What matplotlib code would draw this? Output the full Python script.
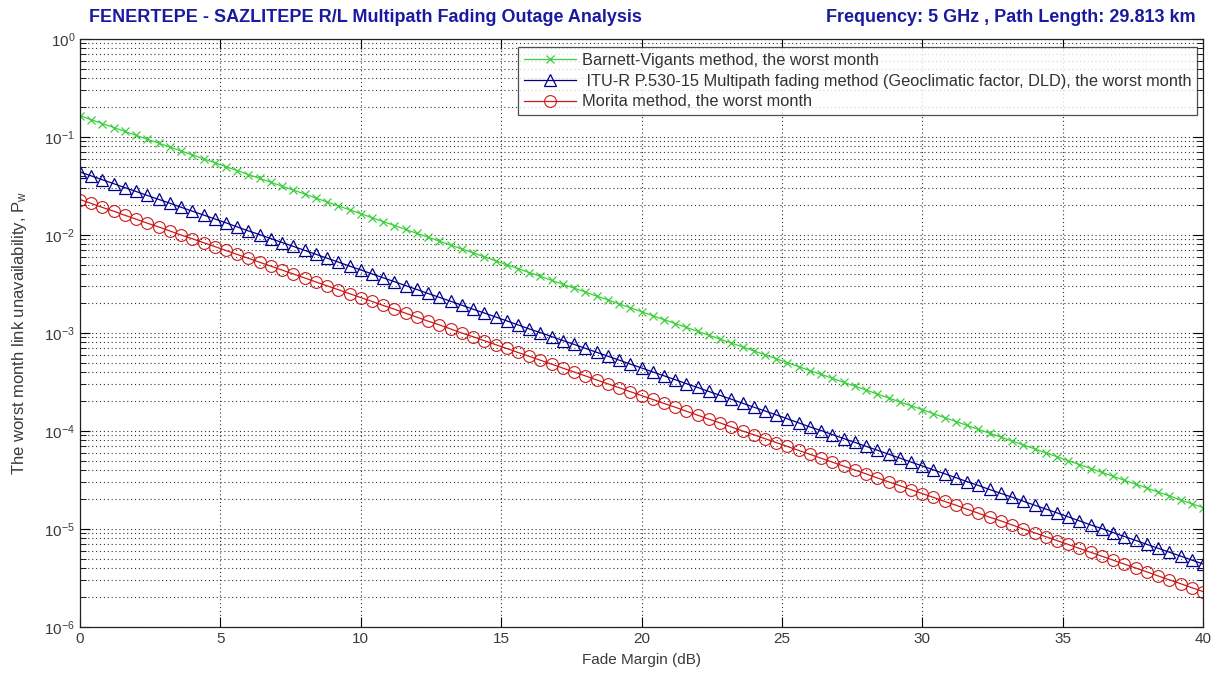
import numpy as np
import matplotlib
matplotlib.use("Agg")
import matplotlib.pyplot as plt
from matplotlib.ticker import LogLocator, NullFormatter, MultipleLocator

plt.rcParams['font.family'] = ['Liberation Sans', 'DejaVu Sans']
plt.rcParams['mathtext.default'] = 'regular'
plt.rcParams['axes.unicode_minus'] = False

# fade margin, 0 to 40 dB in 0.4 dB steps (101 samples, as in the source plot)
fade_margin = np.linspace(0, 40, 101)

# worst month outage probability
barnett_vigants = [
    1.65e-1, 1.50e-1, 1.37e-1, 1.25e-1, 1.14e-1, 1.04e-1, 9.49e-2, 8.66e-2, 7.90e-2, 7.20e-2,
    6.57e-2, 5.99e-2, 5.46e-2, 4.98e-2, 4.54e-2, 4.14e-2, 3.78e-2, 3.45e-2, 3.14e-2, 2.87e-2,
    2.62e-2, 2.38e-2, 2.18e-2, 1.98e-2, 1.81e-2,
    1.65e-2, 1.50e-2, 1.37e-2, 1.25e-2, 1.14e-2, 1.04e-2, 9.49e-3, 8.66e-3, 7.90e-3, 7.20e-3,
    6.57e-3, 5.99e-3, 5.46e-3, 4.98e-3, 4.54e-3, 4.14e-3, 3.78e-3, 3.45e-3, 3.14e-3, 2.87e-3,
    2.62e-3, 2.38e-3, 2.18e-3, 1.98e-3, 1.81e-3,
    1.65e-3, 1.50e-3, 1.37e-3, 1.25e-3, 1.14e-3, 1.04e-3, 9.49e-4, 8.66e-4, 7.90e-4, 7.20e-4,
    6.57e-4, 5.99e-4, 5.46e-4, 4.98e-4, 4.54e-4, 4.14e-4, 3.78e-4, 3.45e-4, 3.14e-4, 2.87e-4,
    2.62e-4, 2.38e-4, 2.18e-4, 1.98e-4, 1.81e-4,
    1.65e-4, 1.50e-4, 1.37e-4, 1.25e-4, 1.14e-4, 1.04e-4, 9.49e-5, 8.66e-5, 7.90e-5, 7.20e-5,
    6.57e-5, 5.99e-5, 5.46e-5, 4.98e-5, 4.54e-5, 4.14e-5, 3.78e-5, 3.45e-5, 3.14e-5, 2.87e-5,
    2.62e-5, 2.38e-5, 2.18e-5, 1.98e-5, 1.81e-5,
    1.65e-5,
]
itu_r = [
    4.40e-2, 4.01e-2, 3.66e-2, 3.34e-2, 3.04e-2, 2.78e-2, 2.53e-2, 2.31e-2, 2.11e-2, 1.92e-2,
    1.75e-2, 1.60e-2, 1.46e-2, 1.33e-2, 1.21e-2, 1.10e-2, 1.01e-2, 9.19e-3, 8.38e-3, 7.65e-3,
    6.97e-3, 6.36e-3, 5.80e-3, 5.29e-3, 4.82e-3,
    4.40e-3, 4.01e-3, 3.66e-3, 3.34e-3, 3.04e-3, 2.78e-3, 2.53e-3, 2.31e-3, 2.11e-3, 1.92e-3,
    1.75e-3, 1.60e-3, 1.46e-3, 1.33e-3, 1.21e-3, 1.10e-3, 1.01e-3, 9.19e-4, 8.38e-4, 7.65e-4,
    6.97e-4, 6.36e-4, 5.80e-4, 5.29e-4, 4.82e-4,
    4.40e-4, 4.01e-4, 3.66e-4, 3.34e-4, 3.04e-4, 2.78e-4, 2.53e-4, 2.31e-4, 2.11e-4, 1.92e-4,
    1.75e-4, 1.60e-4, 1.46e-4, 1.33e-4, 1.21e-4, 1.10e-4, 1.01e-4, 9.19e-5, 8.38e-5, 7.65e-5,
    6.97e-5, 6.36e-5, 5.80e-5, 5.29e-5, 4.82e-5,
    4.40e-5, 4.01e-5, 3.66e-5, 3.34e-5, 3.04e-5, 2.78e-5, 2.53e-5, 2.31e-5, 2.11e-5, 1.92e-5,
    1.75e-5, 1.60e-5, 1.46e-5, 1.33e-5, 1.21e-5, 1.10e-5, 1.01e-5, 9.19e-6, 8.38e-6, 7.65e-6,
    6.97e-6, 6.36e-6, 5.80e-6, 5.29e-6, 4.82e-6,
    4.40e-6,
]
morita = [
    2.30e-2, 2.10e-2, 1.91e-2, 1.75e-2, 1.59e-2, 1.45e-2, 1.32e-2, 1.21e-2, 1.10e-2, 1.00e-2,
    9.16e-3, 8.35e-3, 7.62e-3, 6.95e-3, 6.33e-3, 5.78e-3, 5.27e-3, 4.81e-3, 4.38e-3, 4.00e-3,
    3.65e-3, 3.32e-3, 3.03e-3, 2.77e-3, 2.52e-3,
    2.30e-3, 2.10e-3, 1.91e-3, 1.75e-3, 1.59e-3, 1.45e-3, 1.32e-3, 1.21e-3, 1.10e-3, 1.00e-3,
    9.16e-4, 8.35e-4, 7.62e-4, 6.95e-4, 6.33e-4, 5.78e-4, 5.27e-4, 4.81e-4, 4.38e-4, 4.00e-4,
    3.65e-4, 3.32e-4, 3.03e-4, 2.77e-4, 2.52e-4,
    2.30e-4, 2.10e-4, 1.91e-4, 1.75e-4, 1.59e-4, 1.45e-4, 1.32e-4, 1.21e-4, 1.10e-4, 1.00e-4,
    9.16e-5, 8.35e-5, 7.62e-5, 6.95e-5, 6.33e-5, 5.78e-5, 5.27e-5, 4.81e-5, 4.38e-5, 4.00e-5,
    3.65e-5, 3.32e-5, 3.03e-5, 2.77e-5, 2.52e-5,
    2.30e-5, 2.10e-5, 1.91e-5, 1.75e-5, 1.59e-5, 1.45e-5, 1.32e-5, 1.21e-5, 1.10e-5, 1.00e-5,
    9.16e-6, 8.35e-6, 7.62e-6, 6.95e-6, 6.33e-6, 5.78e-6, 5.27e-6, 4.81e-6, 4.38e-6, 4.00e-6,
    3.65e-6, 3.32e-6, 3.03e-6, 2.77e-6, 2.52e-6,
    2.30e-6,
]

labels = ['Barnett-Vigants method, the worst month',
          ' ITU-R P.530-15 Multipath fading method (Geoclimatic factor, DLD), the worst month',
          'Morita method, the worst month']

fig = plt.figure(figsize=(12.23, 6.77), dpi=100)
ax = fig.add_axes([80/1223, 1-627/677, 1123/1223, 588/677])

ax.semilogy(fade_margin, barnett_vigants, color='#3ccf3c', lw=0.9, marker='x',
            ms=6, mew=0.9, label=labels[0])
ax.semilogy(fade_margin, itu_r, color='#00008b', lw=0.9, marker='^', ms=8.5,
            mfc='none', mew=0.9, label=labels[1])
ax.semilogy(fade_margin, morita, color='#cc1a1a', lw=0.9, marker='o', ms=8.5,
            mfc='none', mew=0.8, label=labels[2])

ax.set_xlim(0, 40)
ax.set_ylim(1e-6, 1e0)
ax.xaxis.set_major_locator(MultipleLocator(5))
ax.yaxis.set_major_locator(LogLocator(base=10, numticks=10))
ax.yaxis.set_minor_locator(LogLocator(base=10, subs=np.arange(2, 10), numticks=10))
ax.yaxis.set_minor_formatter(NullFormatter())

ax.tick_params(which='both', direction='in', top=True, right=True,
               labelsize=11, labelcolor='#3a3a3a')
ax.tick_params(which='major', length=7, width=0.8)
ax.tick_params(which='minor', length=4, width=0.6)
ax.grid(True, which='major', ls=(0, (1, 2.5)), color='#333333', lw=0.8)
ax.grid(True, which='minor', axis='y', ls=(0, (1, 2.5)), color='#333333', lw=0.8)
for s in ax.spines.values():
    s.set_linewidth(0.9)
    s.set_color('#222222')

ax.set_xlabel('Fade Margin (dB)', fontsize=11, color='#3a3a3a', labelpad=5)
ax.set_ylabel(r'The worst month link unavailability, $P_w$', fontsize=12,
              color='#3a3a3a', labelpad=11)

leg = ax.legend(loc='upper right', bbox_to_anchor=(0.9947, 0.986), fontsize=11.8,
                frameon=True, fancybox=False, shadow=False, handlelength=3.2,
                borderaxespad=0.0, labelspacing=0.35, handletextpad=0.35,
                borderpad=0.35)
leg.get_frame().set_edgecolor('#222222')
leg.get_frame().set_linewidth(0.9)
for t in leg.get_texts():
    t.set_color('#333333')

fig.text(89/1223, 1-18/677, 'FENERTEPE - SAZLITEPE R/L Multipath Fading Outage Analysis',
         color='#1a1aa0', fontsize=13, fontweight='bold', va='center', ha='left')
fig.text(1196/1223, 1-18/677, 'Frequency: 5 GHz , Path Length: 29.813 km',
         color='#1a1aa0', fontsize=13, fontweight='bold', va='center', ha='right')

fig.savefig('out.png', dpi=100)
